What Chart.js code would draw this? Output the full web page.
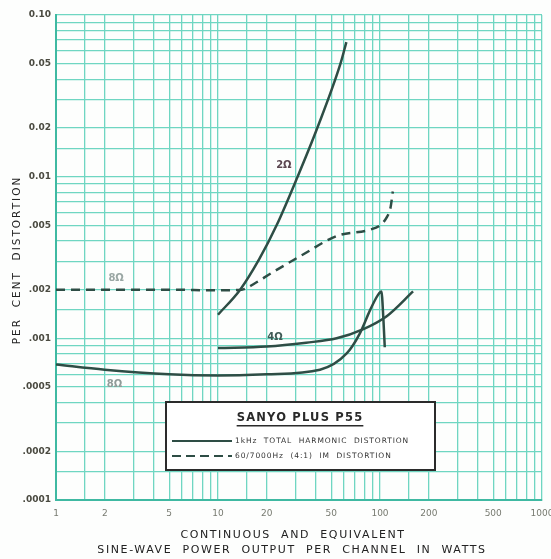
<!DOCTYPE html>
<html>
<head>
<meta charset="utf-8">
<script src="https://cdn.jsdelivr.net/npm/chart.js@4/dist/chart.umd.min.js"></script>
<style>
  html, body { margin: 0; padding: 0; background: #fdfefd; }
  #wrap { width: 551px; height: 559px; }
</style>
</head>
<body>
<div id="wrap"><canvas id="myChart" width="551" height="559"></canvas></div>
<script>
// values (watts, per cent distortion)
var thd2ohmWatts = [10, 13.7, 18, 23, 31, 41, 57, 62];
var thd2ohmPct = [0.0014, 0.002, 0.0031, 0.005, 0.01, 0.02, 0.05, 0.068];

var thd4ohmWatts = [10, 20, 35, 54, 79, 110, 160];
var thd4ohmPct = [0.00087, 0.00089, 0.00094, 0.001, 0.00114, 0.00137, 0.00195];

var thd8ohmWatts = [1, 2, 5, 10, 20, 42.6, 62.5, 75, 87, 97, 102, 105, 107];
var thd8ohmPct = [0.00069, 0.00064, 0.0006, 0.00059, 0.0006, 0.00064, 0.00081, 0.00107, 0.0015, 0.00185, 0.00195, 0.0013, 0.00088];

var im8ohmWatts = [1, 5, 10, 14, 17, 20.9, 33.5, 54.3, 86.7, 100, 110, 116, 120];
var im8ohmPct = [0.002, 0.002, 0.00198, 0.002, 0.0022, 0.0025, 0.0033, 0.0043, 0.0047, 0.005, 0.0056, 0.0064, 0.0081];

var xTickValues = [1, 2, 5, 10, 20, 50, 100, 200, 500, 1000];
var xTickLabels = ['1', '2', '5', '10', '20', '50', '100', '200', '500', '1000'];
var yTickValues = [0.1, 0.05, 0.02, 0.01, 0.005, 0.002, 0.001, 0.0005, 0.0002, 0.0001];
var yTickLabels = ['0.10', '0.05', '0.02', '0.01', '.005', '.002', '.001', '.0005', '.0002', '.0001'];
var gridSteps = [1, 1.5, 2, 3, 4, 5, 6, 7, 8, 9];

var legendTitle = 'SANYO PLUS P55';
var legendLabels = ['1kHz  TOTAL  HARMONIC  DISTORTION', '60/7000Hz  (4:1)  IM  DISTORTION'];
var xTitleLines = ['CONTINUOUS  AND  EQUIVALENT', 'SINE-WAVE  POWER  OUTPUT  PER  CHANNEL  IN  WATTS'];
var yTitle = 'PER  CENT  DISTORTION';

var curveLabels = [
    { text: '8\u03a9', x: 2.35, y: 0.00235, color: '#9aa7a4' },
    { text: '8\u03a9', x: 2.3, y: 0.00052, color: '#8f9b98' },
    { text: '2\u03a9', x: 25.5, y: 0.0118, color: '#5b4650' },
    { text: '4\u03a9', x: 22.5, y: 0.00102, color: '#3f5a55' }
];

var lineColor = '#2e4d45';
var gridColor = '#6fd6c2';

function toPoints(xs, ys) {
    return xs.map(function (x, i) { return { x: x, y: ys[i] }; });
}

function gridTicks(min, max) {
    var out = [];
    for (var e = Math.round(Math.log10(min)); e < Math.round(Math.log10(max)); e++) {
        gridSteps.forEach(function (s) { out.push({ value: s * Math.pow(10, e) }); });
    }
    out.push({ value: max });
    return out;
}

function labelFor(v, values, labels) {
    for (var i = 0; i < values.length; i++) {
        if (Math.abs(v - values[i]) / values[i] < 1e-6) return labels[i];
    }
    return '';
}

function spacedText(ctx, text, x, y, spacing) {
    ctx.letterSpacing = spacing + 'px';
    ctx.fillText(text, x, y);
    ctx.letterSpacing = '0px';
}

var overlay = {
    id: 'overlay',
    afterDatasetsDraw: function (chart) {
        var ctx = chart.ctx;
        var xs = chart.scales.x, ys = chart.scales.y;
        ctx.save();

        // curve labels
        ctx.font = 'bold 10px "DejaVu Sans"';
        ctx.textAlign = 'center';
        ctx.textBaseline = 'middle';
        curveLabels.forEach(function (l) {
            ctx.fillStyle = l.color;
            ctx.fillText(l.text, xs.getPixelForValue(l.x), ys.getPixelForValue(l.y));
        });

        // legend box
        var bx = 166, by = 402, bw = 269, bh = 68;
        ctx.fillStyle = '#ffffff';
        ctx.fillRect(bx, by, bw, bh);
        ctx.strokeStyle = '#2b2b2b';
        ctx.lineWidth = 2;
        ctx.strokeRect(bx, by, bw, bh);

        ctx.fillStyle = '#2a2a2a';
        ctx.font = 'bold 11.5px "DejaVu Sans"';
        ctx.textAlign = 'center';
        ctx.letterSpacing = '1.2px';
        var tw = ctx.measureText(legendTitle).width;
        ctx.fillText(legendTitle, 300, 418);
        ctx.letterSpacing = '0px';
        ctx.fillRect(300 - tw / 2, 425, tw, 1.5);

        ctx.strokeStyle = lineColor;
        ctx.lineWidth = 2;
        ctx.beginPath();
        ctx.moveTo(172, 441); ctx.lineTo(232, 441);
        ctx.stroke();
        ctx.setLineDash([9, 5]);
        ctx.beginPath();
        ctx.moveTo(172, 456); ctx.lineTo(232, 456);
        ctx.stroke();
        ctx.setLineDash([]);

        ctx.font = '7.5px "DejaVu Sans"';
        ctx.textAlign = 'left';
        ctx.fillStyle = '#333333';
        spacedText(ctx, legendLabels[0], 235, 441, 0.9);
        spacedText(ctx, legendLabels[1], 235, 456, 0.9);

        // axis titles
        ctx.fillStyle = '#222222';
        ctx.font = '11px "DejaVu Sans"';
        ctx.textAlign = 'center';
        spacedText(ctx, xTitleLines[0], 293, 535, 1.6);
        spacedText(ctx, xTitleLines[1], 292, 550, 1.6);

        ctx.translate(17, 260);
        ctx.rotate(-Math.PI / 2);
        ctx.font = '10.5px "DejaVu Sans"';
        spacedText(ctx, yTitle, 0, 0, 2);
        ctx.restore();
    }
};

document.addEventListener('DOMContentLoaded', function () {
    var ctx = document.getElementById('myChart').getContext('2d');
    new Chart(ctx, {
        type: 'line',
        data: {
            datasets: [{
                label: '2 ohm THD',
                data: toPoints(thd2ohmWatts, thd2ohmPct),
                borderColor: lineColor,
                borderWidth: 2.5
            }, {
                label: '4 ohm THD',
                data: toPoints(thd4ohmWatts, thd4ohmPct),
                borderColor: lineColor,
                borderWidth: 2.5
            }, {
                label: '8 ohm THD',
                data: toPoints(thd8ohmWatts, thd8ohmPct),
                borderColor: lineColor,
                borderWidth: 2.5
            }, {
                label: '8 ohm IM',
                data: toPoints(im8ohmWatts, im8ohmPct),
                borderColor: lineColor,
                borderWidth: 2.5,
                borderDash: [9, 6]
            }]
        },
        options: {
            responsive: false,
            animation: false,
            devicePixelRatio: 1,
            layout: { padding: { top: 15, right: 9, left: 0, bottom: 0 } },
            elements: {
                point: { radius: 0 },
                line: { cubicInterpolationMode: 'monotone', fill: false }
            },
            plugins: {
                legend: { display: false },
                tooltip: { enabled: false }
            },
            scales: {
                x: {
                    type: 'logarithmic',
                    min: 1,
                    max: 1000,
                    afterBuildTicks: function (scale) { scale.ticks = gridTicks(1, 1000); },
                    afterFit: function (scale) {
                        scale.height = 59;
                        scale.paddingLeft = 0;
                        scale.paddingRight = 0;
                    },
                    grid: { color: gridColor, lineWidth: 1.3, drawTicks: false },
                    border: { color: '#3fb9a2', width: 2 },
                    ticks: {
                        autoSkip: false,
                        maxRotation: 0,
                        padding: 8,
                        color: '#777a70',
                        font: { family: 'DejaVu Sans', size: 9 },
                        callback: function (v) { return labelFor(v, xTickValues, xTickLabels); }
                    }
                },
                y: {
                    type: 'logarithmic',
                    min: 0.0001,
                    max: 0.1,
                    afterBuildTicks: function (scale) { scale.ticks = gridTicks(0.0001, 0.1); },
                    afterFit: function (scale) {
                        scale.width = 56;
                        scale.paddingTop = 0;
                        scale.paddingBottom = 0;
                    },
                    grid: { color: gridColor, lineWidth: 1.3, drawTicks: false },
                    border: { color: '#3fb9a2', width: 2 },
                    ticks: {
                        autoSkip: false,
                        padding: 5,
                        color: '#4a4a40',
                        font: { family: 'DejaVu Sans', size: 9, weight: 'bold' },
                        callback: function (v) { return labelFor(v, yTickValues, yTickLabels); }
                    }
                }
            }
        },
        plugins: [overlay]
    });
});
</script>
</body>
</html>
